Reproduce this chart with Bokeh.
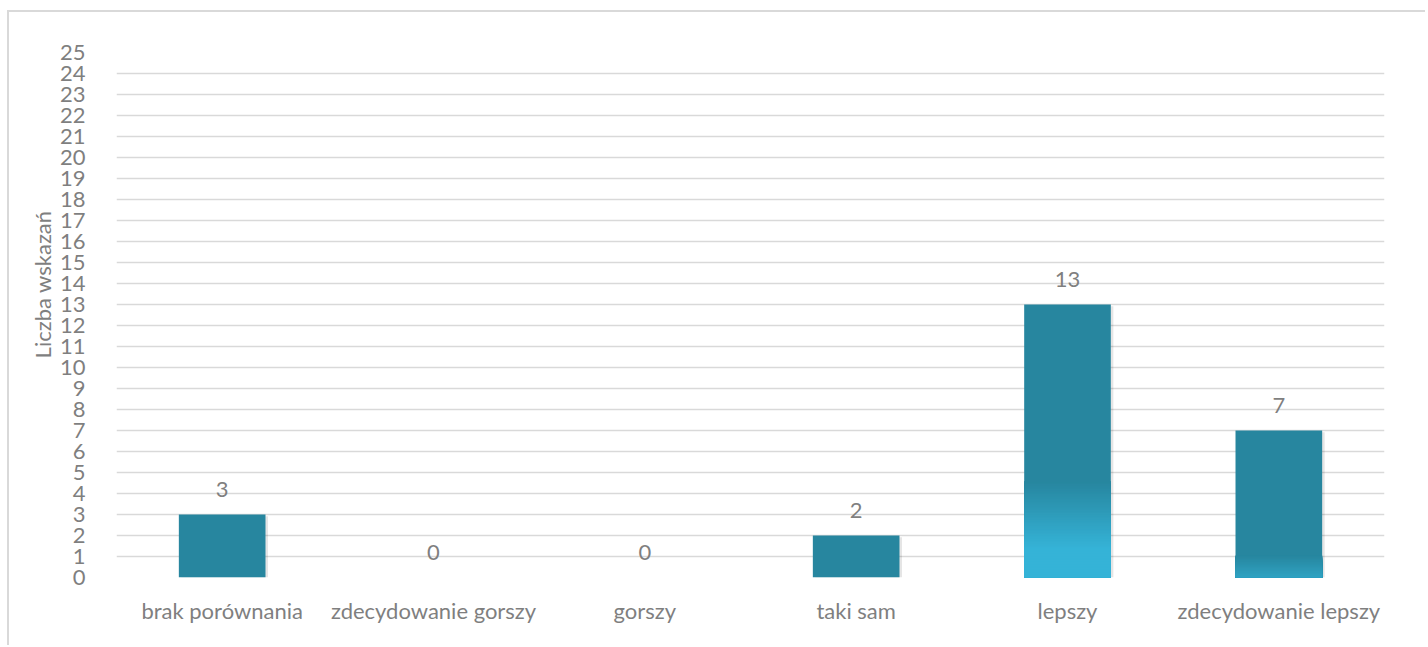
import math
from bokeh.plotting import figure
from bokeh.models import FactorRange, FixedTicker, Title, ColumnDataSource
from bokeh.transform import dodge
from bokeh.core.properties import value
from bokeh.embed import file_html
from bokeh.resources import INLINE

# ---- data ----
categories = ["brak porównania", "zdecydowanie gorszy", "gorszy", "taki sam", "lepszy", "zdecydowanie lepszy"]
counts = [3, 0, 0, 2, 13, 7]
y_ticks = list(range(0, 26))
y_label = "Liczba wskazań"

# ---- style ----
FONT = "Lato"
TEXT_COLOR = "#7f7f7f"
DARK = (0x27, 0x86, 0x9f)
LIGHT = (0x35, 0xb3, 0xd7)
# gradient per bar (value where fully light ends, value where fully dark begins); None = solid
grad_light_to = [None, None, None, None, 1.4, -0.6]
grad_dark_from = [None, None, None, None, 4.6, 1.05]

p = figure(
    x_range=FactorRange(factors=categories, range_padding=0),
    y_range=(0, 25),
    width=1418, height=635,
    output_backend="svg", toolbar_location=None,
    min_border_left=107, min_border_right=43, min_border_top=40, min_border_bottom=70,
)
p.margin = (10, 0, 0, 7)
p.styles = {"border-top": "2px solid #d9d9d9", "border-left": "2px solid #d9d9d9"}
p.outline_line_color = None
p.background_fill_color = "white"
p.border_fill_color = "white"

# grid
p.xgrid.grid_line_color = None
p.ygrid.grid_line_color = "#d9d9d9"
p.ygrid.grid_line_width = 1.5
p.yaxis.ticker = FixedTicker(ticks=y_ticks)

for ax in (p.xaxis, p.yaxis):
    ax.axis_line_color = None
    ax.major_tick_line_color = None
    ax.minor_tick_line_color = None
    ax.major_label_text_font = FONT
    ax.major_label_text_font_size = "22px"
    ax.major_label_text_color = TEXT_COLOR
p.yaxis.major_label_standoff = 25
p.xaxis.major_label_standoff = 13

BAR_W = 0.41

# shadow
shadow = ColumnDataSource(dict(x=categories, top=[max(c - 0.08, 0) for c in counts], bottom=[-0.12] * len(counts)))
p.vbar(x=dodge("x", 0.012, range=p.x_range), top="top", bottom="bottom", width=BAR_W,
       source=shadow, fill_color="#000000", fill_alpha=0.10, line_color=None)


def mix(t):
    r = [round(LIGHT[k] + (DARK[k] - LIGHT[k]) * t) for k in range(3)]
    return "#%02x%02x%02x" % tuple(r)


# bars: solid dark, then nested bars with gradient colours drawn over the bottom part
xs, tops, bottoms, colors = [], [], [], []
for cat, v, lt, df in zip(categories, counts, grad_light_to, grad_dark_from):
    if v <= 0:
        continue
    xs.append(cat); tops.append(v); bottoms.append(0); colors.append(mix(1.0))
    if lt is None:
        continue
    n = 60
    top_lvl = min(df, v)
    for k in range(n):
        y = top_lvl * (1 - k / n)
        t = (y - lt) / (df - lt) if df > lt else 1.0
        t = max(0.0, min(1.0, t))
        xs.append(cat); tops.append(y); bottoms.append(0); colors.append(mix(t))

bars = ColumnDataSource(dict(x=xs, top=tops, bottom=bottoms, color=colors))
p.vbar(x="x", top="top", bottom="bottom", width=BAR_W, source=bars, fill_color="color", line_color=None)

# data labels
lab = ColumnDataSource(dict(x=categories, y=counts, t=[str(c) for c in counts]))
p.text(x="x", y="y", text="t", source=lab, text_align="center", text_baseline="alphabetic",
       y_offset=-25, text_font=value(FONT), text_font_size="22px", text_color=TEXT_COLOR)

# rotated axis title (left title, placed toward the top)
p.add_layout(Title(text=y_label, align="right", offset=158, standoff=1,
                   text_font=FONT, text_font_style="normal", text_font_size="22px",
                   text_color=TEXT_COLOR), "left")

open("out.html", "w").write(file_html(p, INLINE))
